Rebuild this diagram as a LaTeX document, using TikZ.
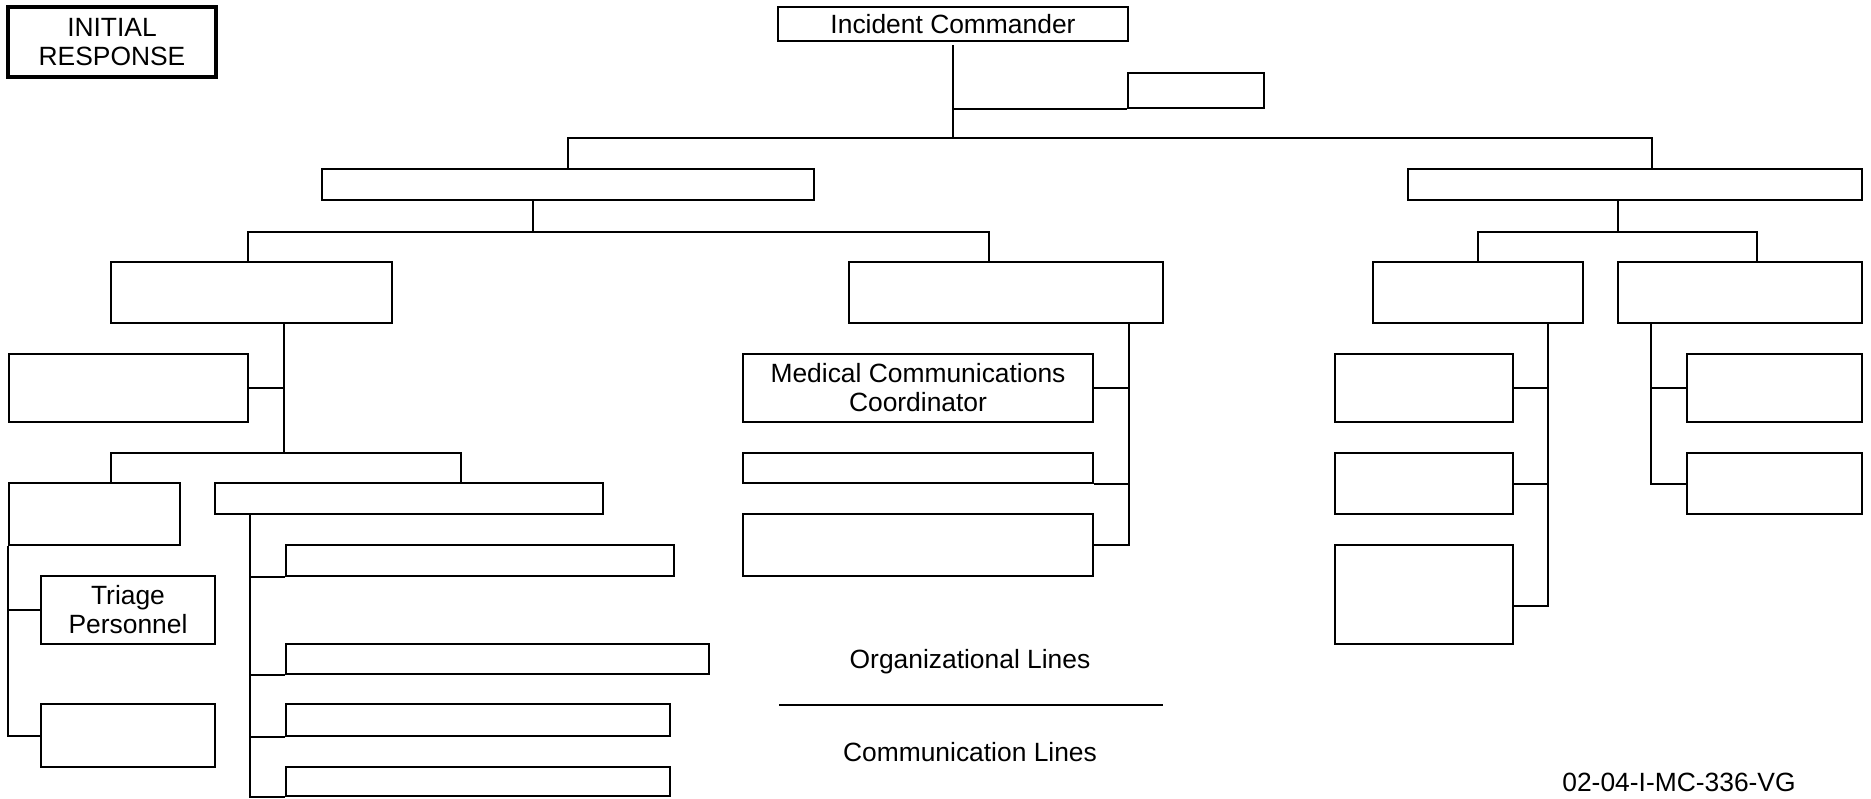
\documentclass[tikz,border=0pt]{standalone}
\usepackage{fontspec}
\setmainfont{Liberation Sans}
\usetikzlibrary{positioning,calc}

\tikzset{
  box/.style={draw, rectangle, line width=2pt, inner sep=0pt, align=center},
  link/.style={line width=2pt},
}

\begin{document}
\begin{tikzpicture}[x=1pt, y=-1pt, font=\fontsize{26.4}{29}\selectfont]
\useasboundingbox (0,0) rectangle (1871,799);

% Title
\node[box, line width=4pt, minimum width=208pt, minimum height=70pt] (init) at (112,42) {INITIAL\\RESPONSE};

% Command
\node[box, minimum width=350pt, minimum height=34pt] (ic) at (953,24) {Incident Commander};
\node[box, minimum width=136pt, minimum height=35pt] (adv) at (1196,90.5) {};

% Sections
\node[box, minimum width=492pt, minimum height=31pt] (secL) at (568,184.5) {};
\node[box, minimum width=454pt, minimum height=31pt] (secR) at (1635,184.5) {};

% Groups
\node[box, minimum width=281pt, minimum height=61pt] (grpL) at (251.5,292.5) {};
\node[box, minimum width=314pt, minimum height=61pt] (grpM) at (1006,292.5) {};
\node[box, minimum width=210pt, minimum height=61pt] (grpE) at (1478,292.5) {};
\node[box, minimum width=244pt, minimum height=61pt] (grpF) at (1740,292.5) {};

% Left branch
\node[box, minimum width=239pt, minimum height=68pt] (G) at (128.5,388) {};
\node[box, minimum width=171pt, minimum height=62pt] (H) at (94.5,514) {};
\node[box, minimum width=388pt, minimum height=31pt] (I) at (409,498.5) {};
\node[box, minimum width=174pt, minimum height=68pt] (triage) at (128,610) {Triage\\Personnel};
\node[box, minimum width=174pt, minimum height=63pt] (K) at (128,735.5) {};
\node[box, minimum width=388pt, minimum height=31pt] (L1) at (480,560.5) {};
\node[box, minimum width=423pt, minimum height=30pt] (L2) at (497.5,659) {};
\node[box, minimum width=384pt, minimum height=32pt] (L3) at (478,720) {};
\node[box, minimum width=384pt, minimum height=29pt] (L4) at (478,781.5) {};

% Middle branch
\node[box, minimum width=350pt, minimum height=68pt] (mcc) at (918,388) {Medical Communications\\Coordinator};
\node[box, minimum width=350pt, minimum height=30pt] (M2) at (918,468) {};
\node[box, minimum width=350pt, minimum height=62pt] (M3) at (918,545) {};

% Right branch
\node[box, minimum width=178pt, minimum height=68pt] (P1) at (1424,388) {};
\node[box, minimum width=178pt, minimum height=61pt] (P2) at (1424,483.5) {};
\node[box, minimum width=178pt, minimum height=99pt] (P3) at (1424,594.5) {};
\node[box, minimum width=175pt, minimum height=68pt] (Q1) at (1774.5,388) {};
\node[box, minimum width=175pt, minimum height=61pt] (Q2) at (1774.5,483.5) {};

% Lines from the top
\coordinate (busTop) at (953,138);
\draw[link] ([yshift=-3pt]ic.south) -- (busTop);
\draw[link] (adv.south west) -- (adv.south west -| busTop);
\draw[link] (secL.north) |- (busTop) -| ([xshift=17pt]secR.north);

\draw[link] ([xshift=-35pt]secL.south) -- ++(0,31) coordinate (jL);
\draw[link] ([xshift=-3.5pt]grpL.north) |- (jL) -| ([xshift=-17pt]grpM.north);
\draw[link] ([xshift=-17pt]secR.south) -- ++(0,31) coordinate (jR);
\draw[link] (grpE.north) |- (jR) -| ([xshift=17pt]grpF.north);

% Left group
\draw[link] ([xshift=32pt]grpL.south) -- ++(0,129) coordinate (jB);
\draw[link] (G.east) -- (G.east -| jB);
\draw[link] ([xshift=16.5pt]H.north) |- (jB) -| ([xshift=52pt]I.north);
\draw[link] (H.south west) |- (K.west);
\draw[link] (triage.west) -- (triage.west -| H.south west);
\coordinate (jI) at ([xshift=36pt]I.south west);
\draw[link] (jI) |- (L4.south west);
\foreach \n in {L1,L2,L3}{
  \draw[link] (\n.south west) -- (\n.south west -| jI);
}

% Middle group
\coordinate (jM) at ([xshift=-35pt]grpM.south east);
\draw[link] (jM) |- (M3.east);
\draw[link] (mcc.east) -- (mcc.east -| jM);
\draw[link] (M2.south east) -- (M2.south east -| jM);

% Right groups
\coordinate (jE) at ([xshift=-36pt]grpE.south east);
\draw[link] (jE) |- ([yshift=-11.5pt]P3.east);
\foreach \n in {P1,P2}{
  \draw[link] (\n.east) -- (\n.east -| jE);
}
\coordinate (jF) at ([xshift=34pt]grpF.south west);
\draw[link] (jF) |- (Q2.west);
\draw[link] (Q1.west) -- (Q1.west -| jF);

% Legend
\node (orgtxt) at (970,662) {Organizational Lines};
\coordinate (lgA) at (779,705);
\coordinate (lgB) at (1163,705);
\draw[link] (lgA) -- (lgB);
\node (comtxt) at (970,752) {Communication Lines};
\node (code) at (1679,782) {02-04-I-MC-336-VG};
\end{tikzpicture}
\end{document}
